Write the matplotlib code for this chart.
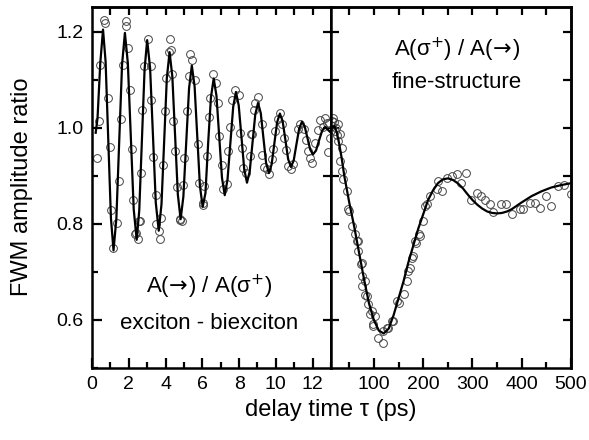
import numpy as np
import matplotlib
matplotlib.use("Agg")
import matplotlib.pyplot as plt
from matplotlib.ticker import MultipleLocator

plt.rcParams['font.family'] = ['Liberation Sans', 'DejaVu Sans']

# ---- data ----
# left panel: exciton - biexciton beats (delay 0..13 ps)
left_pts_x = [0.70, 0.43, 0.88, 0.40, 0.25, 0.97, 1.48, 1.06, 1.37, 1.15, 1.87, 1.96, 1.66, 2.09,
              1.57, 2.20, 2.65, 2.23, 2.56, 2.38, 2.50, 3.04, 2.81, 3.19, 3.23, 2.74, 3.31, 3.85,
              3.50, 3.77, 3.64, 3.68, 4.22, 4.18, 4.04, 3.95, 4.31, 4.36, 4.43, 4.54, 5.03, 4.61,
              4.94, 4.80, 5.15, 5.44, 5.33, 5.26, 5.62, 5.75, 5.80, 6.11, 6.02, 6.25, 6.34, 6.43,
              6.56, 6.74, 6.86, 6.92, 7.06, 7.14, 7.37, 7.42, 7.51, 7.60, 7.78, 7.99, 8.04, 8.18,
              8.22, 8.39, 8.58, 8.63, 9.04, 8.86, 8.81, 9.23, 8.72, 9.26, 9.35, 9.53, 9.62, 9.77,
              9.84, 9.98, 10.13, 10.25, 10.34, 10.43, 10.56, 10.66, 10.84, 10.93, 11.21, 11.34,
              11.51, 11.64, 11.75, 11.84, 11.96, 12.15, 12.29, 12.42, 12.54, 12.83, 12.90, 12.96,
              2.32, 2.60, 3.50, 4.76, 4.90, 6.02, 0.65, 1.85, 12.70, 12.80]
left_pts_y = [1.219, 1.131, 1.063, 1.015, 0.938, 0.961, 0.890, 0.829, 0.803, 0.751, 1.213, 1.167,
              1.131, 1.079, 1.019, 0.956, 0.907, 0.850, 0.806, 0.781, 0.768, 1.185, 1.129, 1.129,
              1.058, 1.037, 0.940, 0.923, 0.860, 0.813, 0.785, 0.768, 1.185, 1.159, 1.104, 1.035,
              1.162, 1.113, 1.015, 0.952, 0.938, 0.876, 0.881, 0.808, 1.035, 1.141, 1.154, 1.108,
              1.099, 0.967, 0.886, 0.879, 0.844, 0.942, 1.023, 1.062, 1.113, 1.094, 1.051, 0.983,
              0.923, 0.872, 0.884, 0.953, 1.001, 1.058, 1.079, 1.069, 0.990, 0.959, 0.917, 0.907,
              0.942, 0.987, 1.065, 1.051, 1.037, 1.008, 0.988, 0.944, 0.919, 0.914, 0.904, 0.935,
              0.956, 0.994, 1.018, 1.032, 1.008, 0.980, 0.954, 0.921, 0.914, 0.924, 0.997, 1.008,
              0.997, 0.974, 0.952, 0.937, 0.928, 0.969, 0.995, 1.016, 1.001, 0.949, 1.011, 0.980,
              0.779, 0.806, 0.800, 0.810, 0.806, 0.840, 1.225, 1.222, 1.020, 1.010]

left_fit_x = [0.20, 0.30, 0.45, 0.60, 0.74, 0.885, 1.03, 1.17, 1.325, 1.48, 1.635, 1.79, 1.95,
              2.11, 2.27, 2.43, 2.57, 2.715, 2.86, 3.00, 3.16, 3.315, 3.47, 3.63, 3.78, 3.925,
              4.07, 4.22, 4.37, 4.52, 4.67, 4.82, 4.97, 5.125, 5.28, 5.43, 5.58, 5.725, 5.87,
              6.02, 6.17, 6.32, 6.47, 6.62, 6.77, 6.92, 7.07, 7.22, 7.37, 7.525, 7.68, 7.83,
              7.98, 8.13, 8.28, 8.43, 8.58, 8.73, 8.88, 9.03, 9.18, 9.325, 9.47, 9.62, 9.77,
              9.92, 10.07, 10.22, 10.37, 10.52, 10.67, 10.82, 10.97, 11.12, 11.27, 11.42,
              11.57, 11.72, 11.87, 12.02, 12.185, 12.35, 12.515, 12.68, 13.0]
left_fit_y = [0.99, 1.02, 1.135, 1.205, 1.138, 0.975, 0.812, 0.745, 0.811, 0.972, 1.132, 1.198,
              1.135, 0.983, 0.830, 0.767, 0.828, 0.975, 1.122, 1.183, 1.125, 0.985, 0.844,
              0.786, 0.841, 0.972, 1.104, 1.158, 1.107, 0.984, 0.861, 0.810, 0.857, 0.970,
              1.083, 1.130, 1.087, 0.983, 0.879, 0.836, 0.864, 0.970, 1.064, 1.103, 1.067,
              0.982, 0.896, 0.860, 0.892, 0.968, 1.044, 1.075, 1.047, 0.981, 0.914, 0.886,
              0.910, 0.969, 1.028, 1.052, 1.031, 0.979, 0.927, 0.906, 0.924, 0.968, 1.012,
              1.030, 1.014, 0.975, 0.935, 0.919, 0.932, 0.966, 0.999, 1.013, 1.003, 0.979,
              0.955, 0.945, 0.953, 0.974, 0.994, 1.002, 0.990]

# right panel: fine-structure beat (delay 13..500 ps)
right_pts_x = [14.5, 15.5, 19.5, 23.0, 24.5, 17.8, 26.6, 21.1, 31.3, 27.9, 34.7, 31.3, 34.7, 38.1,
               44.9, 49.5, 55.0, 61.7, 67.2, 68.5, 73.9, 76.6, 75.3, 82.1, 88.9, 95.6, 102.3,
               99.0, 109.2, 119.3, 129.5, 139.6, 151.2, 162.0, 166.8, 170.1, 48.2, 66.4, 75.3,
               82.1, 85.5, 92.3, 97.7, 118.1, 126.3, 136.4, 147.8, 173.5, 180.3, 185.8, 192.5,
               200.6, 204.0, 176.8, 183.6, 193.7, 207.3, 214.0, 227.6, 230.9, 237.7, 247.9,
               258.0, 268.2, 276.9, 286.4, 297.2, 308.7, 317.4, 325.5, 335.0, 341.7, 357.3,
               368.8, 380.4, 395.9, 402.7, 416.2, 426.4, 436.5, 450.0, 460.2, 473.8, 486.0, 499.6]
right_pts_y = [1.015, 1.005, 1.012, 1.000, 0.985, 1.021, 1.008, 0.994, 0.987, 0.973, 0.959, 0.931,
               0.910, 0.893, 0.869, 0.827, 0.796, 0.779, 0.765, 0.744, 0.716, 0.692, 0.671,
               0.653, 0.633, 0.619, 0.608, 0.591, 0.563, 0.577, 0.584, 0.598, 0.636, 0.655,
               0.681, 0.702, 0.831, 0.765, 0.719, 0.681, 0.650, 0.612, 0.588, 0.553, 0.584,
               0.598, 0.640, 0.709, 0.733, 0.761, 0.779, 0.806, 0.838, 0.730, 0.765, 0.775,
               0.841, 0.858, 0.872, 0.890, 0.869, 0.896, 0.900, 0.904, 0.886, 0.907, 0.851,
               0.865, 0.858, 0.851, 0.841, 0.824, 0.841, 0.841, 0.820, 0.831, 0.831, 0.844,
               0.844, 0.834, 0.858, 0.838, 0.879, 0.881, 0.862]

right_fit_x = [13, 20, 25, 30, 35, 40, 50, 60, 70, 80, 90, 100, 110, 120, 130, 140, 150, 160,
               170, 180, 190, 200, 210, 220, 230, 240, 250, 260, 270, 280, 290, 300, 310, 320,
               330, 340, 350, 360, 370, 380, 390, 400, 420, 440, 460, 480, 500]
right_fit_y = [1.000, 1.004, 0.990, 0.965, 0.935, 0.900, 0.845, 0.795, 0.740, 0.685, 0.635,
               0.600, 0.578, 0.572, 0.582, 0.610, 0.645, 0.680, 0.720, 0.755, 0.790, 0.820,
               0.850, 0.870, 0.885, 0.893, 0.895, 0.892, 0.885, 0.875, 0.862, 0.850, 0.840,
               0.832, 0.826, 0.823, 0.822, 0.823, 0.826, 0.831, 0.838, 0.845, 0.858, 0.868,
               0.876, 0.881, 0.885]

left_ticks = [0, 2, 4, 6, 8, 10, 12]
right_ticks = [100, 200, 300, 400, 500]
y_ticks = [0.6, 0.8, 1.0, 1.2]

# ---- figure ----
W, H = 589, 440
fig = plt.figure(figsize=(W / 100, H / 100), dpi=100)
bot, hgt = (H - 368) / H, 361 / H
ax1 = fig.add_axes([92 / W, bot, 239 / W, hgt])
ax2 = fig.add_axes([331 / W, bot, 240 / W, hgt])

mk = dict(marker='o', ls='none', ms=5.6, mfc='none', mec='#444444', mew=0.7)
ax1.plot(left_pts_x, left_pts_y, **mk)
ax1.plot(left_fit_x, left_fit_y, color='black', lw=1.6)
ax2.plot(right_pts_x, right_pts_y, **mk)
ax2.plot(right_fit_x, right_fit_y, color='black', lw=1.6)

ax1.set_xlim(0, 13)
ax2.set_xlim(13, 500)
for ax in (ax1, ax2):
    ax.set_ylim(0.5, 1.252)
    for s in ax.spines.values():
        s.set_linewidth(1.8)

# left panel ticks
ax1.set_xticks(left_ticks)
ax1.xaxis.set_minor_locator(MultipleLocator(1))
ax1.set_yticks(y_ticks)
ax1.yaxis.set_minor_locator(MultipleLocator(0.1))
ax1.tick_params(which='both', direction='in', top=False, right=False, width=1.6,
                labelsize=14, pad=6)
ax1.tick_params(which='major', length=7)
ax1.tick_params(which='minor', length=4)
ax1.set_yticklabels(['0.6', '0.8', '1.0', '1.2'])

# right panel ticks
ax2.set_xticks(right_ticks)
ax2.xaxis.set_minor_locator(MultipleLocator(50))
ax2.set_yticks(np.arange(0.6, 1.25, 0.1))
ax2.tick_params(which='both', direction='in', top=False, right=False, width=1.6,
                labelsize=14, labelleft=False, pad=6)
ax2.tick_params(axis='x', which='major', length=7)
ax2.tick_params(axis='x', which='minor', length=4)
ax2.tick_params(axis='y', which='major', length=6)

# uniform ticks on top and right sides
for ax, tops in ((ax1, np.arange(1, 13)), (ax2, np.arange(50, 500, 50))):
    sx = ax.secondary_xaxis('top')
    sx.set_xticks(tops, labels=[''] * len(tops))
    sx.tick_params(direction='in', length=6, width=1.6)
    sx.spines['top'].set_linewidth(1.8)
    sy = ax.secondary_yaxis('right')
    yt = np.arange(0.6, 1.25, 0.1)
    sy.set_yticks(yt, labels=[''] * len(yt))
    sy.tick_params(direction='in', length=6, width=1.6)
    sy.spines['right'].set_linewidth(1.8)

# annotations
arrow = '$\\!\\rightarrow\\!$'
lbl_left = 'A(' + arrow + ') / A(\u03c3$^{+}$)'
lbl_right = 'A(\u03c3$^{+}$) / A(' + arrow + ')'
ax1.text(0.49, 0.224, lbl_left, transform=ax1.transAxes,
         ha='center', va='center', fontsize=16)
ax1.text(0.49, 0.122, 'exciton - biexciton', transform=ax1.transAxes,
         ha='center', va='center', fontsize=16)
ax2.text(0.525, 0.881, lbl_right, transform=ax2.transAxes,
         ha='center', va='center', fontsize=16)
ax2.text(0.525, 0.792, 'fine-structure', transform=ax2.transAxes,
         ha='center', va='center', fontsize=16)

fig.text(331 / W, 1 - 410 / H, 'delay time \u03c4 (ps)', ha='center', va='center', fontsize=17)
fig.text(22 / W, 1 - 187 / H, 'FWM amplitude ratio', ha='center', va='center',
         rotation=90, fontsize=17)

fig.savefig('out.png', dpi=100)
